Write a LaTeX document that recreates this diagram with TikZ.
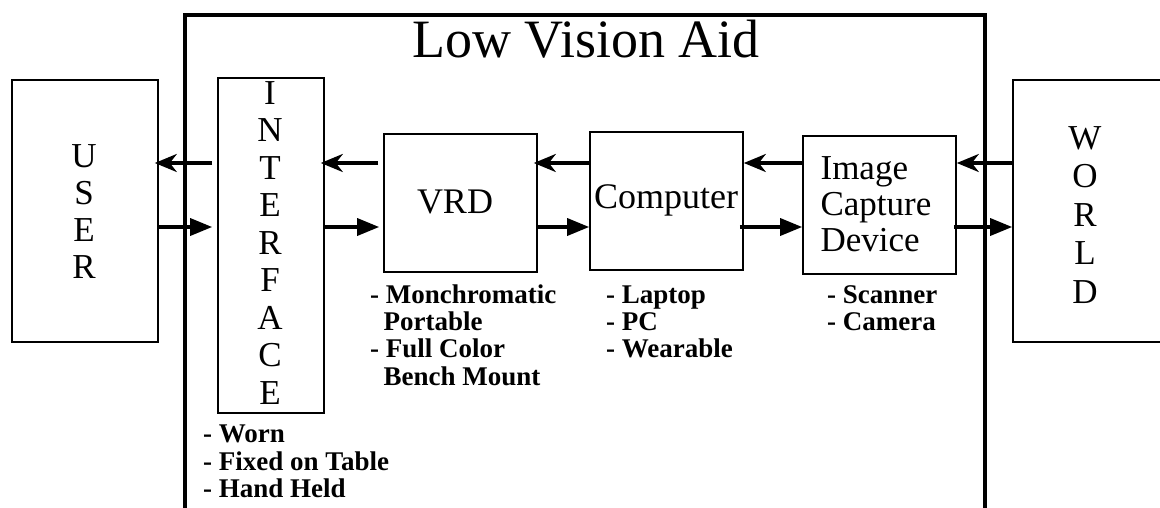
\documentclass[tikz,border=0pt]{standalone}
\usepackage{fontspec}
\setmainfont{Liberation Serif}
\usetikzlibrary{arrows.meta}
\begin{document}
\begin{tikzpicture}[x=1pt,y=-1pt,
  box/.style={draw,line width=1.6pt,rectangle,inner sep=0pt,align=center,
    font=\fontsize{35}{37}\selectfont},
  bigtxt/.style={inner sep=0pt,align=center,font=\fontsize{36}{37}\selectfont},
  lbl/.style={inner sep=0pt,anchor=base west,font=\fontsize{27}{27.5}\selectfont\bfseries},
  larr/.style={line width=3.4pt,-{Stealth[length=22pt,width=18pt,inset=7pt]}},
  rarr/.style={line width=3.4pt,-{Triangle[length=22pt,width=17pt]}}
]
\useasboundingbox (0,0) rectangle (1160,507);
\clip (0,0) rectangle (1160,507);
\fill[white] (0,0) rectangle (1160,507);

% outer frame
\draw[line width=4pt] (185,520) -- (185,15) -- (985,15) -- (985,520);
\node[inner sep=0pt,anchor=base,font=\fontsize{54}{54}\selectfont] (title) at (586,57) {Low Vision Aid};

% boxes
\node[box,minimum width=146pt,minimum height=262pt] (USER) at (85,211) {};
\node[bigtxt,font=\fontsize{35}{37}\selectfont] (usertxt) at (84,212) {U\\S\\E\\R};
\node[box,minimum width=106pt,minimum height=335pt] (INTF) at (271,245.5) {};
\node[bigtxt,font=\fontsize{35}{37.5}\selectfont] (intftxt) at (270,243) {I\\N\\T\\E\\R\\F\\A\\C\\E};
\node[box,minimum width=153pt,minimum height=138pt] (VRD) at (460.5,203) {};
\node[bigtxt] (vrdtxt) at (455,202) {VRD};
\node[box,minimum width=153pt,minimum height=138pt] (COMP) at (666.5,201) {};
\node[bigtxt] (comptxt) at (666,200) {Computer};
\node[box,minimum width=153pt,minimum height=138pt] (ICD) at (879.5,205) {};
\node[bigtxt,align=left,font=\fontsize{35}{36}\selectfont] (icdtxt) at (876,204) {Image\\Capture\\Device};
\node[box,minimum width=187pt,minimum height=262pt] (WORLD) at (1106.5,211) {};
\node[bigtxt,font=\fontsize{35}{38.5}\selectfont] (worldtxt) at (1085,215) {W\\O\\R\\L\\D};

% rows
\coordinate (rowA) at (0,163);
\coordinate (rowB) at (0,227);

% upper (leftward) arrows
\draw[larr,shorten <=5pt,shorten >=-4pt] (INTF.west |- rowA) -- (USER.east |- rowA);
\draw[larr,shorten <=5pt,shorten >=-4pt] (VRD.west |- rowA) -- (INTF.east |- rowA);
\draw[larr,shorten >=-4pt] (COMP.west |- rowA) -- (VRD.east |- rowA);
\draw[larr] (ICD.west |- rowA) -- (COMP.east |- rowA);
\draw[larr] (WORLD.west |- rowA) -- (ICD.east |- rowA);

% lower (rightward) arrows
\draw[rarr,shorten >=5pt] (USER.east |- rowB) -- (INTF.west |- rowB);
\draw[rarr,shorten >=4pt] (INTF.east |- rowB) -- (VRD.west |- rowB);
\draw[rarr] (VRD.east |- rowB) -- (COMP.west |- rowB);
\draw[rarr,shorten <=-4pt] (COMP.east |- rowB) -- (ICD.west |- rowB);
\draw[rarr,shorten <=-3pt] (ICD.east |- rowB) -- (WORLD.west |- rowB);

% labels
\node[lbl] (i1) at (203,442) {- Worn};
\node[lbl] (i2) at (203,470) {- Fixed on Table};
\node[lbl] (i3) at (203,497) {- Hand Held};

\node[lbl] (v1) at (370,303) {- Monchromatic};
\node[lbl] (v2) at (370,330) {\phantom{-\,}Portable};
\node[lbl] (v3) at (370,357) {- Full Color};
\node[lbl] (v4) at (370,385) {\phantom{-\,}Bench Mount};

\node[lbl] (c1) at (606,303) {- Laptop};
\node[lbl] (c2) at (606,330) {- PC};
\node[lbl] (c3) at (606,357) {- Wearable};

\node[lbl] (d1) at (827,303) {- Scanner};
\node[lbl] (d2) at (827,330) {- Camera};
\end{tikzpicture}
\end{document}
